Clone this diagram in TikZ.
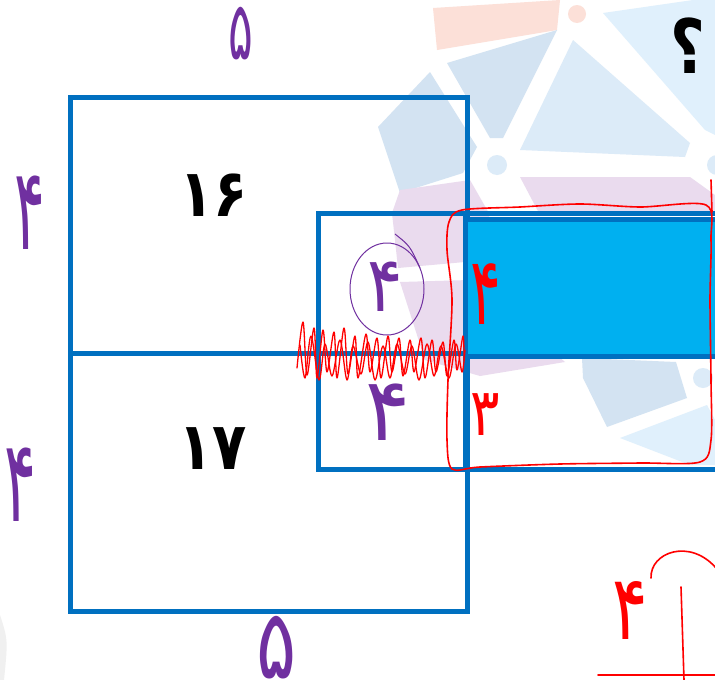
\documentclass[tikz,border=0pt]{standalone}
\usepackage{fontspec}
\newfontfamily\arabicfont[Script=Arabic]{DejaVu Sans}
\newfontfamily\arabicbold[Script=Arabic]{DejaVu Sans Bold}
\TeXXeTstate=1
\definecolor{boxblue}{RGB}{0,112,192}
\definecolor{fillblue}{RGB}{0,176,240}
\definecolor{pen}{RGB}{112,48,160}
\definecolor{redpen}{RGB}{255,0,0}
\definecolor{wmpink}{RGB}{252,224,216}
\definecolor{wmblue}{RGB}{211,227,242}
\definecolor{wmlight}{RGB}{220,235,248}
\definecolor{wmsky}{RGB}{224,240,252}
\definecolor{wmlav}{RGB}{234,219,238}
\tikzset{
  box/.style={draw=boxblue, line width=5pt},
  bignum/.style={font=\arabicbold\fontsize{66}{70}\selectfont, text=black, inner sep=0pt, xscale=0.85},
  hand/.style={font=\arabicfont\fontsize{44}{48}\selectfont, inner sep=0pt},
  purplenum/.style={hand, text=pen},
  rednum/.style={hand, text=redpen},
  redline/.style={draw=redpen, line width=1.6pt, line cap=round, line join=round},
}
\begin{document}
\begin{tikzpicture}[x=1pt,y=-1pt]
\useasboundingbox (0,0) rectangle (715,680);
\fill[white] (0,0) rectangle (715,680);
% watermark logo
\fill[wmpink] (433,8) -- (560,0) -- (557,30) -- (437,50) -- cycle;
\fill[wmblue] (447,63) -- (557,30) -- (503,138) -- (490,138) -- cycle;
\fill[wmblue] (430,72) -- (378,127) -- (400,193) -- (463,173) -- (477,147) -- cycle;
\fill[wmlight] (573,40) -- (520,150) -- (685,157) -- (690,143) -- cycle;
\fill[wmsky] (603,13) -- (693,0) -- (715,0) -- (715,135) -- (705,130) -- cycle;
\fill[wmlav] (520,177) -- (690,177) -- (715,195) -- (715,215) -- (540,215) -- cycle;
\fill[wmlav] (392,213) -- (400,190) -- (470,180) -- (490,215) -- (465,262) -- (398,268) -- cycle;
\fill[wmlav] (400,282) -- (470,280) -- (565,362) -- (480,376) -- (425,360) -- cycle;
\fill[wmblue] (582,358) -- (676,362) -- (687,398) -- (607,427) -- (583,378) -- cycle;
\fill[wmsky] (620,438) -- (707,405) -- (715,420) -- (715,465) -- (690,465) -- cycle;
\fill[wmpink] (577,14) circle (9);
\fill[wmlight] (497,165) circle (10);
\fill[wmlight] (717,165) circle (10);
\fill[wmlight] (703,378) circle (10);
\fill[black!6] (0,615) .. controls (8,640) .. (4,680) -- (0,680) -- cycle;
% rectangles
\draw[box] (70,97) rectangle (467,353);
\draw[box] (70,353) rectangle (467,611);
\fill[fillblue] (465,219) rectangle (720,356);
\draw[box] (465,219) rectangle (720,356);
\draw[box] (318,213) rectangle (720,469);
\draw[box] (465,213) -- (465,469);
% printed numbers
\node[bignum] (n16) at (214,195) {۱۶};
\node[bignum] (n17) at (213,449) {۱۷};
\node[font=\arabicbold\fontsize{30}{34}\selectfont, inner sep=0pt, xscale=2.0, yscale=2.5] (q) at (688,46) {؟};
% purple annotations
\node[purplenum, xscale=1.05, yscale=1.85] (top5) at (241,34) {۵};
\node[purplenum, xscale=1.7, yscale=2.2] (bot5) at (277,648) {۵};
\node[purplenum, xscale=1.3, yscale=2.6] (left4a) at (30,213) {۴};
\node[purplenum, xscale=1.35, yscale=2.6] (left4b) at (20,485) {۴};
\node[purplenum, xscale=1.5, yscale=1.75] (mid4) at (385,287) {۴};
\draw[pen, line width=1pt] (387,289) ellipse (37 and 46);
\draw[pen, line width=1pt] (395,234) .. controls (410,246) .. (420,268);
\node[purplenum, xscale=1.9, yscale=2.0] (low4) at (388,412) {۴};
% red annotations
\node[rednum, xscale=1.3, yscale=2.15] (r4) at (486,294) {۴};
\node[rednum, xscale=1.25, yscale=1.5] (r3) at (485,415) {۳};
\node[rednum, xscale=1.5, yscale=2.05] (r4b) at (630,610) {۴};
\draw[redline] plot[smooth cycle, tension=0.5] coordinates {(462,210) (520,207) (580,204) (640,207) (706,205) (711,240) (710,300) (711,380) (711,440) (700,462) (640,463) (560,464) (480,467) (452,469) (447,440) (448,380) (452,300) (447,250) (449,222)};
\draw[redline] (711,180) -- (712,212);
\draw[redline, line width=1.3pt] plot[smooth, tension=0.55] coordinates {(297,368) (303,322) (307,375) (314,328) (317,378) (323,330) (327,372) (334,332) (337,378) (344,328) (348,374) (355,336) (358,378) (366,334) (370,372) (377,338) (381,378) (388,336) (392,372) (399,338) (403,376) (410,340) (414,372) (421,338) (425,378) (432,340) (436,372) (443,342) (447,376) (454,340) (457,370) (463,336) (464,360)};
\draw[redline, line width=1.3pt] plot[smooth, tension=0.55] coordinates {(300,345) (305,378) (311,336) (319,380) (325,344) (332,376) (340,340) (347,380) (353,346) (361,374) (368,342) (375,380) (383,346) (390,378) (397,344) (405,374) (412,346) (419,380) (427,344) (434,376) (441,346) (449,378) (456,344) (462,372) (465,350)};
\coordinate (vtop) at (681,587);
\coordinate (vbot) at (684,680);
\draw[redline] (vtop) -- (vbot);
\coordinate (hl) at (598,675);
\coordinate (hr) at (715,675);
\draw[redline] (hl) -- (hr);
\coordinate (arcA) at (651,578);
\coordinate (arcB) at (716,568);
\draw[redline] (arcA) .. controls (650,552) and (690,538) .. (arcB);
\end{tikzpicture}
\end{document}
